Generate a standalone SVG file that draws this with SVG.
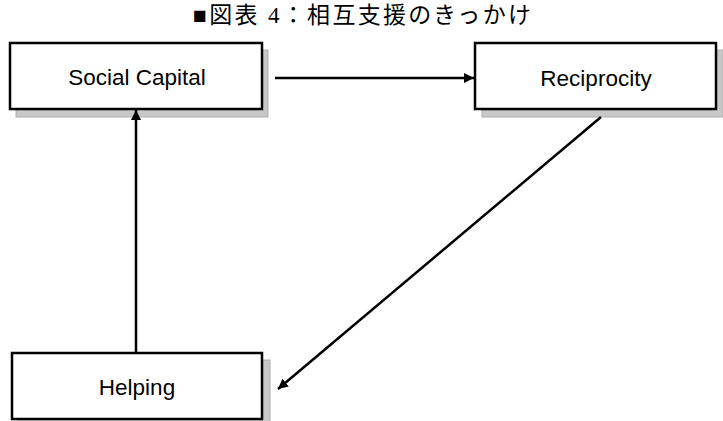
<svg xmlns="http://www.w3.org/2000/svg" width="723" height="421" viewBox="0 0 723 421">
<style>
.box{fill:#fff;stroke:#000;stroke-width:2.5}
.shadow{fill:#c8c8c8;stroke:#b0b0b0;stroke-width:1}
.lbl{font-family:"Liberation Sans",Arial,sans-serif;font-size:22.5px;text-anchor:middle;fill:#000}
.title{font-family:"Liberation Serif","Noto Sans CJK JP",serif;font-size:23px;fill:#000}
.conn{stroke:#000;stroke-width:2.5;fill:none;marker-end:url(#ah)}
</style>
<defs>
<marker id="ah" viewBox="0 0 10 10" refX="10" refY="5" markerWidth="4" markerHeight="4" orient="auto" markerUnits="strokeWidth">
<path d="M0,0 L10,5 L0,10 z" fill="#000"/>
</marker>
</defs>
<rect width="723" height="421" fill="#fff"/>
<text class="title" x="193" y="23" textLength="338" lengthAdjust="spacing">■図表 4：相互支援のきっかけ</text>
<g id="social-capital">
<rect class="shadow" x="16" y="50" width="252" height="67"/>
<rect class="box" x="10" y="43" width="252" height="66"/>
<text class="lbl" x="137" y="85">Social Capital</text>
</g>
<g id="reciprocity">
<rect class="shadow" x="482" y="50" width="241" height="67"/>
<rect class="box" x="475" y="43" width="241" height="66"/>
<text class="lbl" x="596" y="86">Reciprocity</text>
</g>
<g id="helping">
<rect class="shadow" x="18" y="360" width="252" height="67"/>
<rect class="box" x="12" y="353" width="250" height="66"/>
<text class="lbl" x="137" y="395">Helping</text>
</g>
<g id="connectors">
<line class="conn" x1="275" y1="78" x2="474" y2="78"/>
<line class="conn" x1="136" y1="352" x2="136" y2="110"/>
<line class="conn" x1="601" y1="117" x2="278" y2="389"/>
</g>
</svg>
